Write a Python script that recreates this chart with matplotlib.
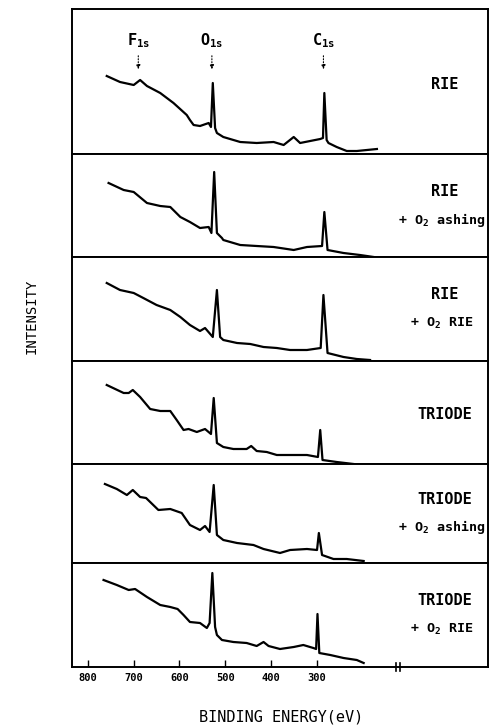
import numpy as np
import matplotlib
matplotlib.use('Agg')
import matplotlib.pyplot as plt

plt.rcParams.update({'font.family': 'DejaVu Sans Mono', 'font.size': 10})

# binding energy (eV) and intensity (arb. units)
e_rie = [759, 730, 700, 686, 671, 642, 613, 584, 577, 569, 555, 536, 531, 527, 522, 518,
         504, 467, 431, 394, 372, 350, 336, 314, 292, 286, 283, 278, 274, 256, 234, 212, 168]
i_rie = [78, 72, 69, 74, 68, 61, 51, 39, 34, 29, 28, 31, 27, 71, 26, 21,
         17, 12, 11, 12, 9, 17, 11, 13, 15, 16, 61, 14, 11, 7, 3, 3, 5]

e_rie_ash = [755, 722, 700, 671, 642, 620, 598, 577, 555, 536, 530, 524, 518, 507, 504,
             467, 431, 394, 350, 321, 288, 283, 276, 241, 205, 175]
i_rie_ash = [74, 67, 65, 54, 51, 50, 40, 35, 29, 30, 24, 85, 24, 19, 17,
             12, 11, 10, 7, 10, 11, 45, 7, 4, 2, 0]

e_rie_rie = [759, 730, 700, 679, 650, 620, 598, 577, 555, 544, 527, 518, 511, 504, 474,
             445, 416, 387, 358, 321, 291, 285, 276, 241, 212, 183]
i_rie_rie = [78, 71, 68, 63, 56, 51, 44, 36, 30, 33, 24, 71, 24, 21, 18,
             17, 14, 13, 11, 11, 13, 66, 8, 4, 2, 1]

e_tri = [759, 722, 711, 702, 686, 664, 642, 620, 606, 591, 580, 562, 544, 531, 525, 518,
         504, 482, 453, 443, 431, 409, 387, 358, 321, 297, 292, 287, 256, 219]
i_tri = [79, 71, 71, 74, 67, 55, 53, 53, 44, 34, 35, 32, 35, 30, 66, 21,
         17, 15, 15, 18, 13, 12, 9, 9, 9, 7, 34, 4, 2, 0]

e_tri_ash = [763, 737, 715, 702, 686, 673, 646, 620, 595, 577, 555, 544, 534, 525, 518,
             504, 474, 438, 416, 380, 358, 321, 299, 295, 288, 263, 234, 197]
i_tri_ash = [79, 74, 68, 73, 66, 65, 53, 54, 50, 38, 33, 37, 31, 78, 28,
             23, 20, 18, 14, 10, 13, 14, 13, 30, 8, 4, 4, 2]

e_tri_rie = [766, 737, 711, 697, 671, 642, 620, 604, 591, 577, 555, 540, 534, 528, 522,
             518, 507, 482, 453, 431, 416, 405, 380, 350, 329, 307, 301, 298, 294, 270,
             241, 212, 197]
i_tri_rie = [87, 82, 77, 78, 70, 62, 60, 58, 52, 45, 44, 39, 44, 94, 40,
             32, 27, 25, 24, 21, 25, 21, 18, 20, 22, 19, 18, 53, 14, 12,
             9, 7, 4]

spectra = [(e_rie, i_rie), (e_rie_ash, i_rie_ash), (e_rie_rie, i_rie_rie),
           (e_tri, i_tri), (e_tri_ash, i_tri_ash), (e_tri_rie, i_tri_rie)]
etch = ['RIE', 'RIE', 'RIE', 'TRIODE', 'TRIODE', 'TRIODE']
post = [None, r'+ $\mathregular{O_2}$ ashing', r'+ $\mathregular{O_2}$ RIE',
        None, r'+ $\mathregular{O_2}$ ashing', r'+ $\mathregular{O_2}$ RIE']

peaks = [r'$\mathregular{F_{1s}}$', r'$\mathregular{O_{1s}}$', r'$\mathregular{C_{1s}}$']
peak_e = [690, 529, 285]
xticks = [800, 700, 600, 500, 400, 300]

W, H = 492, 726
edges = [9, 154, 257, 361, 464, 563, 667]   # panel borders, px from top
x0, x1 = 72, 488

fig = plt.figure(figsize=(W / 100, H / 100), dpi=100)
axes = []
for k in range(6):
    top, bot = edges[k], edges[k + 1]
    ax = fig.add_axes([x0 / W, 1 - bot / H, (x1 - x0) / W, (bot - top) / H])
    e, inten = spectra[k]
    ax.plot(e, inten, color='black', lw=1.6, solid_joinstyle='round')
    ax.set_xlim(835, -75)
    ax.set_ylim(0, bot - top)
    ax.set_yticks([])
    for s in ax.spines.values():
        s.set_linewidth(1.4)
    if post[k] is None:
        ax.text(0.895, 0.48, etch[k], transform=ax.transAxes, ha='center', va='center',
                fontsize=11, fontweight='bold')
    else:
        ax.text(0.895, 0.64, etch[k], transform=ax.transAxes, ha='center', va='center',
                fontsize=11, fontweight='bold')
        ax.text(0.89, 0.36, post[k], transform=ax.transAxes, ha='center', va='center',
                fontsize=9.6, fontweight='bold')
    if k < 5:
        ax.set_xticks([])
    axes.append(ax)

# peak markers in top panel
ax = axes[0]
for lab, pe in zip(peaks, peak_e):
    ax.text(pe, 113, lab, ha='center', va='center', fontsize=11, fontweight='bold')
    ax.annotate('', xy=(pe, 82), xytext=(pe, 101),
                arrowprops=dict(arrowstyle='-|>', color='black', lw=0.8, ls=':',
                                mutation_scale=6))

ax = axes[-1]
ax.set_xticks(xticks)
ax.set_xticklabels([str(t) for t in xticks], fontsize=7.5, fontweight='bold')
ax.tick_params(axis='x', direction='in', length=5, width=1, pad=4)
# axis break mark
brk = ax.get_xaxis_transform()
for xb in [126, 117]:
    ax.plot([xb, xb], [-0.04, 0.04], transform=brk, color='black', lw=1.2, clip_on=False)

fig.text(32 / W, 1 - 316 / H, 'INTENSITY', rotation=90, ha='center', va='center', fontsize=10)
fig.text(281 / W, 1 - 717 / H, 'BINDING ENERGY(eV)', ha='center', va='center', fontsize=11)

fig.savefig('out.png', dpi=100)
